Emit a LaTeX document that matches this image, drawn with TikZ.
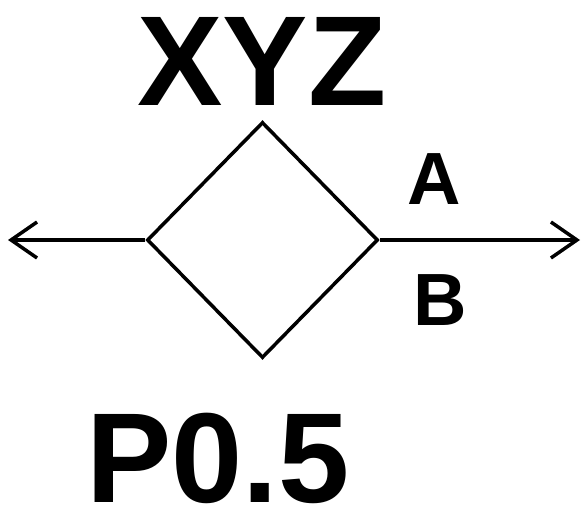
\documentclass[tikz,border=0pt]{standalone}
\usepackage{fontspec}
\setmainfont{Liberation Sans}
\usetikzlibrary{shapes.geometric, arrows.meta}
\tikzset{
  every picture/.style={x=1pt, y=-1pt},
  gate/.style={diamond, draw, line width=3.5pt, minimum width=231pt, minimum height=236pt, inner sep=0pt},
  flow/.style={line width=3.5pt, -{Straight Barb[length=26pt, width=36pt]}},
  bigtext/.style={font=\fontsize{128}{128}\selectfont\bfseries, inner sep=0pt, anchor=base},
  smalltext/.style={font=\fontsize{74}{74}\selectfont\bfseries, inner sep=0pt, anchor=base}
}

\begin{document}
\begin{tikzpicture}
    \useasboundingbox (0,0) rectangle (585,510);
    % diamond and its two outputs
    \node[gate] (xyz) at (262.5,240) {};
    \coordinate (leftend) at (8,240);
    \coordinate (rightend) at (580,240);
    \draw[flow] (xyz.west) -- (leftend);
    \draw[flow] (xyz.east) -- (rightend);
    % labels
    \node[bigtext] (name) at (262,106) {XYZ};
    \node[smalltext] (outa) at (434,205) {A};
    \node[smalltext] (outb) at (440,325) {B};
    \node[bigtext] (prob) at (218,502) {P0.5};
\end{tikzpicture}
\end{document}
